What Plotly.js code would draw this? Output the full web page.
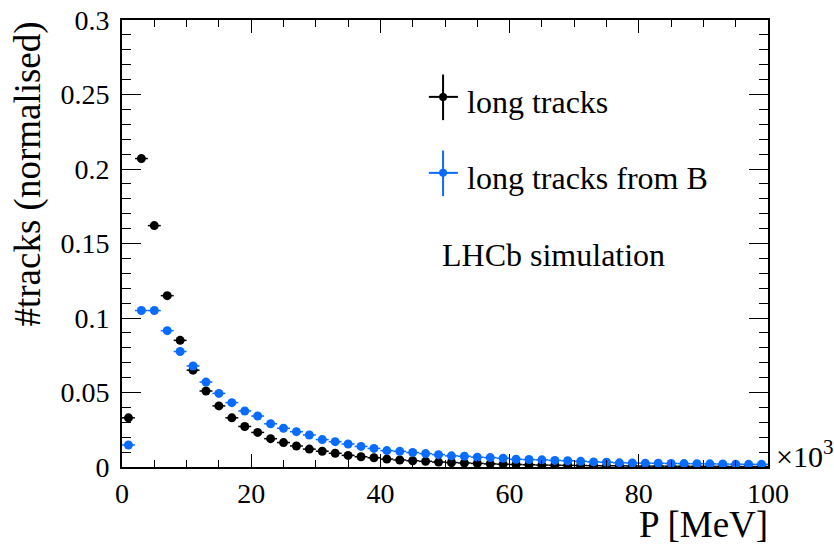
<!DOCTYPE html>
<html>
<head>
<meta charset="utf-8">
<script src="https://cdn.plot.ly/plotly-3.0.1.min.js"></script>
<style>
html,body{margin:0;padding:0;background:#fff;}
#chart{width:834px;height:550px;}
#chart svg text{font-family:"Liberation Serif","Times New Roman",Times,serif !important;}
</style>
</head>
<body>
<div id="chart"></div>
<script>
// Bin centres of P (in units of 10^3 MeV), bin width 2
const binCenters = [1,3,5,7,9,11,13,15,17,19,21,23,25,27,29,31,33,35,37,39,41,43,45,47,49,
                    51,53,55,57,59,61,63,65,67,69,71,73,75,77,79,81,83,85,87,89,91,93,95,97,99];
const binHalfWidth = 1;

const longTracks = [0.033,0.207,0.162,0.115,0.085,0.065,0.051,0.041,0.033,0.0272,
                    0.0232,0.019,0.0164,0.0141,0.012,0.0106,0.0092,0.0078,0.0069,0.0062,
                    0.0053,0.0047,0.0042,0.0038,0.0033,0.003,0.0027,0.0024,0.0021,0.0019,
                    0.0017,0.0015,0.0013,0.0012,0.0011,0.001,0.0009,0.0008,0.0008,0.0007,
                    0.0006,0.0006,0.0005,0.0005,0.0004,0.0004,0.0004,0.0003,0.0003,0.0003];

const longTracksFromB = [0.0148,0.105,0.105,0.0915,0.0775,0.0678,0.057,0.0494,0.0432,0.0376,
                         0.0342,0.029,0.026,0.0237,0.0215,0.0184,0.017,0.0154,0.0138,0.0125,
                         0.011,0.0105,0.0097,0.009,0.0083,0.0075,0.0072,0.0066,0.0063,0.0059,
                         0.0052,0.005,0.0048,0.0044,0.0042,0.0038,0.0034,0.0032,0.0028,0.0027,
                         0.0026,0.0025,0.0024,0.0023,0.0022,0.0021,0.002,0.0019,0.0018,0.0018];

const seriesNames = ["long tracks", "long tracks from B"];
const seriesColors = ["#000000", "#0a6cff"];

const F = "Liberation Serif";

function makeTrace(y, name, color) {
  return {
    x: binCenters, y: y, name: name, type: "scatter", mode: "markers",
    marker: {color: color, size: 9},
    error_x: {type: "constant", value: binHalfWidth, color: color, thickness: 1.5, width: 0},
    error_y: {type: "constant", value: 0.0004, color: color, thickness: 1.5, width: 0},
    showlegend: false
  };
}

function draw() {
  const data = [
    makeTrace(longTracks, seriesNames[0], seriesColors[0]),
    makeTrace(longTracksFromB, seriesNames[1], seriesColors[1])
  ];
  function axisBase() {
    return {
      showgrid: false, zeroline: false, showline: true, linecolor: "#000", linewidth: 2,
      mirror: "allticks", ticks: "inside", tickcolor: "#000", tickwidth: 1,
      tickfont: {family: F, size: 28, color: "#000"}
    };
  }
  const legendY = [0.828, 0.658];
  const shapes = [];
  const annotations = [];
  seriesNames.forEach((nm, i) => {
    const c = seriesColors[i];
    const yc = legendY[i];
    shapes.push({type: "line", xref: "paper", yref: "paper", x0: 0.497, x1: 0.497, y0: yc - 0.052, y1: yc + 0.05, line: {color: c, width: 2}});
    shapes.push({type: "line", xref: "paper", yref: "paper", x0: 0.475, x1: 0.520, y0: yc, y1: yc, line: {color: c, width: 2}});
    shapes.push({type: "circle", xref: "paper", yref: "paper", xsizemode: "pixel", ysizemode: "pixel",
                 xanchor: 0.497, yanchor: yc, x0: -4, x1: 4, y0: -4, y1: 4, fillcolor: c, line: {color: c, width: 0}});
    annotations.push({text: nm, xref: "paper", yref: "paper", x: 0.531, y: yc - 0.012, xanchor: "left", yanchor: "middle",
                      showarrow: false, font: {family: F, size: 32, color: "#000"}});
  });
  annotations.push({text: "LHCb simulation", xref: "paper", yref: "paper", x: 0.492, y: 0.474, xanchor: "left", yanchor: "middle",
                    showarrow: false, font: {family: F, size: 32, color: "#000"}});
  annotations.push({text: "P [MeV]", xref: "paper", yref: "paper", x: 1.003, y: -0.128, xanchor: "right", yanchor: "middle",
                    showarrow: false, font: {family: F, size: 37, color: "#000"}});
  annotations.push({text: "#tracks (normalised)", xref: "paper", yref: "paper", x: -0.147, y: 1.0, xanchor: "center", yanchor: "top",
                    textangle: -90, showarrow: false, font: {family: F, size: 37, color: "#000"}});
  annotations.push({text: "×10<sup>3</sup>", xref: "paper", yref: "paper", x: 1.01, y: 0.03, xanchor: "left", yanchor: "middle",
                    showarrow: false, font: {family: F, size: 30, color: "#000"}});

  const xaxis = axisBase();
  Object.assign(xaxis, {
    range: [0, 100], tick0: 0, dtick: 20, ticklen: 13,
    minor: {dtick: 5, ticklen: 7, ticks: "inside", tickcolor: "#000", tickwidth: 1, showgrid: false},
    ticklabelstandoff: 0
  });
  const yaxis = axisBase();
  Object.assign(yaxis, {
    range: [0, 0.3], tick0: 0, dtick: 0.05, ticklen: 19,
    minor: {dtick: 0.01, ticklen: 9, ticks: "inside", tickcolor: "#000", tickwidth: 1, showgrid: false},
    ticklabelstandoff: 5
  });
  const layout = {
    width: 834, height: 550,
    margin: {l: 122, r: 66, t: 20, b: 83},
    paper_bgcolor: "#fff", plot_bgcolor: "#fff",
    font: {family: F, color: "#000"},
    xaxis: xaxis, yaxis: yaxis,
    shapes: shapes,
    annotations: annotations,
    showlegend: false
  };
  Plotly.newPlot("chart", data, layout, {staticPlot: true});
}

let drawn = false;
function once() { if (!drawn) { drawn = true; draw(); } }
if (document.fonts && document.fonts.load) {
  document.fonts.load('32px "Liberation Serif"').then(once, once);
  setTimeout(once, 300);
} else {
  once();
}
</script>
</body>
</html>
